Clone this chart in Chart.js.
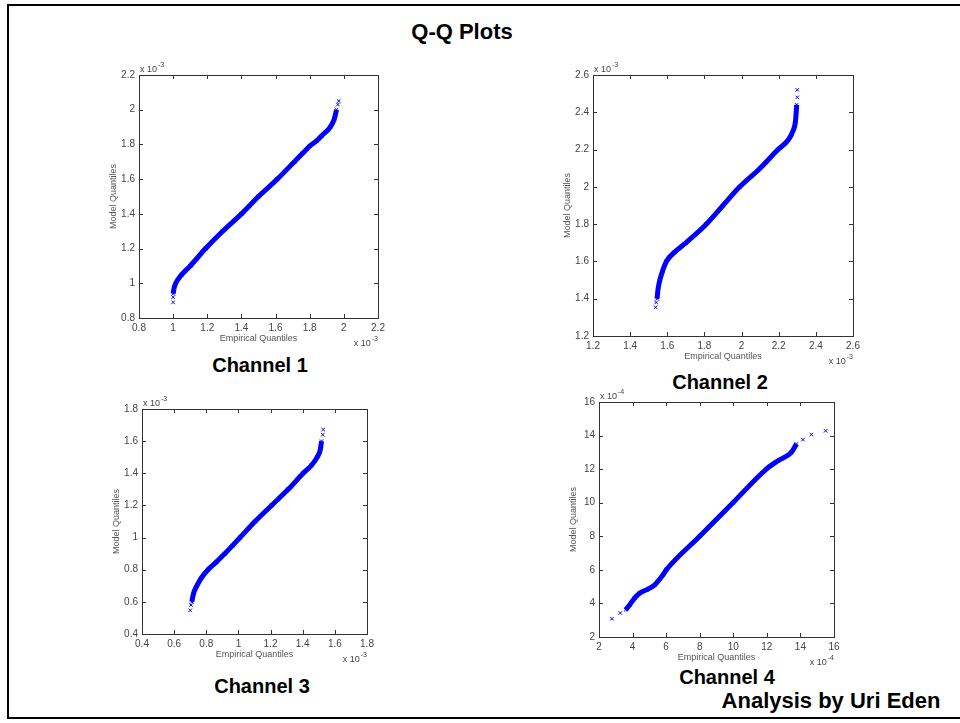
<!DOCTYPE html>
<html>
<head>
<meta charset="utf-8">
<script src="https://cdn.jsdelivr.net/npm/chart.js@4.4.1/dist/chart.umd.min.js"></script>
<style>
  html, body { margin: 0; padding: 0; background: #fff; }
  #page { position: relative; width: 960px; height: 723px; overflow: hidden; font-family: Arial, "Liberation Sans", sans-serif; }
  #frame { position: absolute; left: 7px; top: 4px; width: 980px; height: 715px; border: 2.5px solid #000; box-sizing: border-box; }
  .lbl { position: absolute; font-weight: bold; color: #000; white-space: nowrap; transform: translate(-50%, -50%); }
  canvas { position: absolute; }
</style>
</head>
<body>
<div id="page">
  <div id="frame"></div>
  <div class="lbl" style="left:462px; top:32px; font-size:22px;">Q-Q Plots</div>
  <div class="lbl" style="left:260px; top:365px; font-size:20px;">Channel 1</div>
  <div class="lbl" style="left:720px; top:382px; font-size:20px;">Channel 2</div>
  <div class="lbl" style="left:262px; top:686px; font-size:20px;">Channel 3</div>
  <div class="lbl" style="left:727px; top:677px; font-size:20px;">Channel 4</div>
  <div class="lbl" style="left:831px; top:701px; font-size:22px;">Analysis by Uri Eden</div>
  <canvas id="c1"></canvas>
  <canvas id="c2"></canvas>
  <canvas id="c3"></canvas>
  <canvas id="c4"></canvas>
</div>
<script>
// Channel 1 (both axes x 10^-3)
const ch1Emp = [1.00, 1.005, 1.015, 1.05, 1.10, 1.19, 1.29, 1.40, 1.50, 1.61, 1.71, 1.76, 1.80, 1.84, 1.87, 1.92, 1.945, 1.957];
const ch1Mod = [0.94, 0.97, 1.00, 1.05, 1.10, 1.20, 1.30, 1.40, 1.50, 1.60, 1.70, 1.75, 1.79, 1.82, 1.85, 1.90, 1.95, 2.00];
const ch1TailEmp = [1.00, 1.00, 1.965, 1.97];
const ch1TailMod = [0.89, 0.92, 2.03, 2.05];

// Channel 2 (x 10^-3)
const ch2Emp = [1.545, 1.55, 1.56, 1.575, 1.595, 1.64, 1.70, 1.81, 1.90, 1.99, 2.10, 2.196, 2.25, 2.277, 2.29, 2.297];
const ch2Mod = [1.40, 1.45, 1.50, 1.55, 1.60, 1.65, 1.70, 1.80, 1.90, 2.00, 2.10, 2.20, 2.25, 2.30, 2.35, 2.44];
const ch2TailEmp = [1.537, 1.54, 2.30, 2.30];
const ch2TailMod = [1.354, 1.38, 2.48, 2.52];

// Channel 3 (x 10^-3)
const ch3Emp = [0.71, 0.72, 0.741, 0.77, 0.81, 0.865, 0.915, 0.963, 1.01, 1.103, 1.206, 1.31, 1.403, 1.455, 1.49, 1.51, 1.517];
const ch3Mod = [0.60, 0.65, 0.70, 0.75, 0.80, 0.85, 0.90, 0.95, 1.00, 1.10, 1.20, 1.30, 1.40, 1.45, 1.50, 1.55, 1.60];
const ch3TailEmp = [0.70, 0.705, 1.525, 1.527];
const ch3TailMod = [0.547, 0.58, 1.64, 1.672];

// Channel 4 (x 10^-4)
const ch4Emp = [3.59, 3.83, 4.12, 4.42, 4.82, 5.32, 5.81, 6.01, 8.0, 9.98, 11.97, 12.66, 13.46, 13.76];
const ch4Mod = [3.62, 3.92, 4.32, 4.61, 4.81, 5.11, 5.70, 6.00, 8.0, 10.0, 12.0, 12.5, 13.0, 13.5];
const ch4TailEmp = [2.77, 3.27, 14.15, 14.65, 15.5];
const ch4TailMod = [3.09, 3.43, 13.76, 14.06, 14.28];

// axis ranges / ticks: [min, max, step]
const ch1Ticks = [0.8, 2.2, 0.2];
const ch2Ticks = [1.2, 2.6, 0.2];
const ch3Ticks = [0.4, 1.8, 0.2];
const ch4Ticks = [2, 16, 2];

const BLUE = '#0000ff';
const M = { left: 60, top: 22, right: 30, bottom: 45 };

const pts = (xs, ys) => xs.map((x, i) => ({ x: x, y: ys[i] }));
const fmt = v => String(+v.toFixed(2));

// matlab-ish box, inner ticks and the "x 10^n" multipliers
const matlabBox = {
  id: 'matlabBox',
  afterDraw(chart, args, opts) {
    const { ctx, chartArea: a, scales } = chart;
    ctx.save();
    ctx.strokeStyle = '#333';
    ctx.lineWidth = 1;
    ctx.strokeRect(a.left + 0.5, a.top + 0.5, a.right - a.left, a.bottom - a.top);
    ctx.beginPath();
    scales.x.ticks.forEach(t => {
      const px = Math.round(scales.x.getPixelForValue(t.value)) + 0.5;
      ctx.moveTo(px, a.bottom); ctx.lineTo(px, a.bottom - 4);
      ctx.moveTo(px, a.top); ctx.lineTo(px, a.top + 4);
    });
    scales.y.ticks.forEach(t => {
      const py = Math.round(scales.y.getPixelForValue(t.value)) + 0.5;
      ctx.moveTo(a.left, py); ctx.lineTo(a.left + 4, py);
      ctx.moveTo(a.right, py); ctx.lineTo(a.right - 4, py);
    });
    ctx.stroke();

    const mult = (xr, yb, align) => {
      ctx.font = '9px Arial, "Liberation Sans"';
      const base = 'x 10';
      const w1 = ctx.measureText(base).width;
      ctx.font = '7px Arial, "Liberation Sans"';
      const w2 = ctx.measureText(opts.exp).width;
      const x0 = align === 'right' ? xr - w1 - w2 - 1 : xr;
      ctx.fillStyle = '#444';
      ctx.font = '9px Arial, "Liberation Sans"';
      ctx.fillText(base, x0, yb);
      ctx.font = '7px Arial, "Liberation Sans"';
      ctx.fillText(opts.exp, x0 + w1 + 1, yb - 5);
    };
    ctx.textAlign = 'left';
    ctx.textBaseline = 'alphabetic';
    mult(a.left + 1, a.top - 3, 'left');
    mult(a.right, a.bottom + 28, 'right');
    ctx.restore();
  }
};

function makeQQ(id, area, range, body, tail, exp, lineW) {
  const el = document.getElementById(id);
  const w = area.r - area.l + M.left + M.right;
  const h = area.b - area.t + M.top + M.bottom;
  el.style.left = (area.l - M.left) + 'px';
  el.style.top = (area.t - M.top) + 'px';
  el.style.width = w + 'px';
  el.style.height = h + 'px';
  el.width = w; el.height = h;

  const tickFont = { family: 'Arial, "Liberation Sans"', size: 10 };
  const titleFont = { family: 'Arial, "Liberation Sans"', size: 9, lineHeight: 1 };
  const axis = (title, isX) => ({
    type: 'linear',
    min: range[0], max: range[1],
    grid: { display: false, drawTicks: false },
    border: { display: false },
    ticks: { stepSize: range[2], color: '#444', font: tickFont, padding: 4,
             maxRotation: 0, autoSkip: false, callback: fmt },
    title: { display: true, text: title, color: '#555', font: titleFont,
             padding: isX ? { top: 0, bottom: 20 } : { top: 30, bottom: 0 } },
    afterFit: s => { if (isX) s.height = M.bottom; else s.width = M.left; }
  });

  return new Chart(el, {
    type: 'scatter',
    data: {
      datasets: [
        { data: body, showLine: true, cubicInterpolationMode: 'monotone', borderColor: BLUE,
          borderWidth: lineW, pointStyle: 'crossRot', pointRadius: 2.5, pointBorderColor: BLUE,
          pointBorderWidth: 1, pointBackgroundColor: BLUE },
        { data: tail, showLine: false, pointStyle: 'crossRot', pointRadius: 2.5,
          pointBorderColor: BLUE, pointBorderWidth: 1 }
      ]
    },
    options: {
      responsive: false,
      animation: false,
      devicePixelRatio: 1,
      layout: { padding: { left: 0, top: M.top, right: M.right, bottom: 0 } },
      plugins: { legend: { display: false }, tooltip: { enabled: false }, matlabBox: { exp: exp } },
      scales: { x: axis('Empirical Quantiles', true), y: axis('Model Quantiles', false) }
    },
    plugins: [matlabBox]
  });
}

makeQQ('c1', { l: 139, t: 75, r: 378, b: 318 }, ch1Ticks, pts(ch1Emp, ch1Mod), pts(ch1TailEmp, ch1TailMod), '-3', 5);
makeQQ('c2', { l: 593, t: 75, r: 853, b: 336 }, ch2Ticks, pts(ch2Emp, ch2Mod), pts(ch2TailEmp, ch2TailMod), '-3', 5);
makeQQ('c3', { l: 142, t: 409, r: 367, b: 634 }, ch3Ticks, pts(ch3Emp, ch3Mod), pts(ch3TailEmp, ch3TailMod), '-3', 5);
makeQQ('c4', { l: 599, t: 402, r: 834, b: 637 }, ch4Ticks, pts(ch4Emp, ch4Mod), pts(ch4TailEmp, ch4TailMod), '-4', 5);
</script>
</body>
</html>
